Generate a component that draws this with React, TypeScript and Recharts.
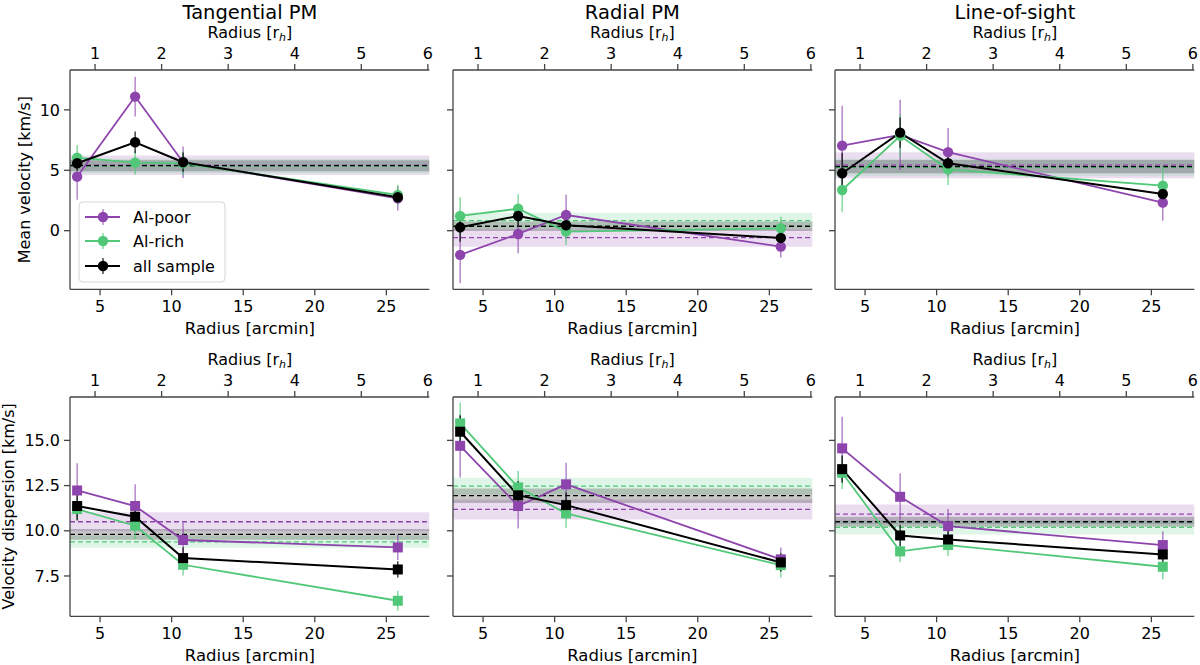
import React from 'react';
import { ComposedChart, Line, XAxis, YAxis, ErrorBar, ReferenceArea, ReferenceLine } from 'recharts';

// radii of the four bins, arcmin
const radii = [3.4, 7.45, 10.8, 25.8];
const rhArcmin = 4.65;
const rhTicks = [1, 2, 3, 4, 5, 6];
const arcminTicks = [5, 10, 15, 20, 25];
const meanTicks = [0, 5, 10];
const dispTicks = [7.5, 10, 12.5, 15];
const panelTitles = ['Tangential PM', 'Radial PM', 'Line-of-sight'];
const seriesNames = ['Al-poor', 'Al-rich', 'all sample'];

// mean velocity
const tanMeanPoor = [4.47, 11.1, 5.67, 2.68];
const tanMeanPoorErr = [1.9, 1.65, 1.3, 1.0];
const tanMeanRich = [6.05, 5.63, 5.58, 2.96];
const tanMeanRichErr = [1.05, 1.0, 1.0, 0.85];
const tanMeanAll = [5.58, 7.32, 5.67, 2.77];
const tanMeanAllErr = [0.6, 0.9, 0.8, 0.5];

const radMeanPoor = [-2.0, -0.27, 1.3, -1.32];
const radMeanPoorErr = [2.35, 1.6, 1.7, 0.9];
const radMeanRich = [1.22, 1.82, -0.08, 0.2];
const radMeanRichErr = [1.55, 1.2, 1.1, 0.95];
const radMeanAll = [0.28, 1.22, 0.45, -0.6];
const radMeanAllErr = [1.2, 0.9, 0.7, 0.5];

const losMeanPoor = [7.04, 7.93, 6.5, 2.32];
const losMeanPoorErr = [3.3, 2.9, 2.0, 1.5];
const losMeanRich = [3.37, 7.85, 5.08, 3.73];
const losMeanRichErr = [1.85, 1.8, 1.3, 1.6];
const losMeanAll = [4.75, 8.12, 5.58, 3.04];
const losMeanAllErr = [1.7, 1.25, 0.8, 0.5];

// velocity dispersion
const tanDispPoor = [12.23, 11.37, 9.49, 9.08];
const tanDispPoorErr = [1.5, 1.2, 0.95, 0.7];
const tanDispRich = [11.2, 10.28, 8.12, 6.13];
const tanDispRichErr = [0.6, 0.75, 0.6, 0.55];
const tanDispAll = [11.37, 10.78, 8.49, 7.86];
const tanDispAllErr = [0.8, 0.7, 0.6, 0.45];

const radDispPoor = [14.7, 11.37, 12.57, 8.42];
const radDispPoorErr = [1.75, 1.25, 1.2, 0.65];
const radDispRich = [15.94, 12.4, 10.96, 8.1];
const radDispRichErr = [1.15, 0.9, 0.8, 0.7];
const radDispAll = [15.48, 11.96, 11.42, 8.25];
const radDispAllErr = [0.9, 0.8, 0.7, 0.5];

const losDispPoor = [14.56, 11.88, 10.26, 9.21];
const losDispPoorErr = [1.75, 1.3, 0.95, 0.75];
const losDispRich = [13.21, 8.86, 9.21, 8.01];
const losDispRichErr = [0.9, 0.6, 0.6, 0.7];
const losDispAll = [13.41, 9.74, 9.52, 8.69];
const losDispAllErr = [0.75, 0.6, 0.55, 0.4];

// global values: [mean, sigma]
const tanMeanBands = [[5.42, 0.8], [5.35, 0.6], [5.38, 0.45]];
const radMeanBands = [[-0.58, 0.75], [0.83, 0.66], [0.37, 0.4]];
const losMeanBands = [[5.42, 1.07], [5.25, 0.7], [5.3, 0.55]];
const tanDispBands = [[10.5, 0.52], [9.39, 0.33], [9.8, 0.3]];
const radDispBands = [[11.18, 0.55], [12.47, 0.46], [11.94, 0.4]];
const losDispBands = [[10.92, 0.54], [10.19, 0.39], [10.5, 0.27]];

const colors = ['#8e44ad', '#50c878', '#000000'];
const errColors = ['rgba(142,68,173,0.75)', 'rgba(80,200,120,0.8)', 'rgba(0,0,0,0.85)'];

const FONT = 'DejaVu Sans, sans-serif';
const AXIS = '#444';
const PW = 359.3;
const PH = 219.3;
const colLeft = [70.3, 452.7, 835.3];
const rowTop = [70, 396.7];
const xDomain = [2.9, 28];
const meanDomain = [-4.85, 13.3];
const dispDomain = [5.27, 17.4];
// top axis shares the arcmin scale, ticks placed at whole multiples of r_h
const rhTickPos = rhTicks.map((t) => t * rhArcmin);

const ML = 60;
const MT = 45;
const MB = 35;
const MR = 10;

type Series = { vals: number[]; errs: number[] };

function Panel({ left, top, series, bands, yDomain, yTicks, showLabels, square, fmt }: {
  left: number; top: number; series: Series[]; bands: number[][]; yDomain: number[];
  yTicks: number[]; showLabels: boolean; square: boolean; fmt: (v: number) => string;
}) {
  const tickStyle = { fill: '#000', fontSize: 16 };
  const dot = (k: number) => (p: any) =>
    square ? (
      <rect key={`d${k}-${p.index}`} x={p.cx - 5} y={p.cy - 5} width={10} height={10} fill={colors[k]} />
    ) : (
      <circle key={`d${k}-${p.index}`} cx={p.cx} cy={p.cy} r={5.2} fill={colors[k]} />
    );
  const rows = series.map((s) => radii.map((r, i) => ({ r, v: s.vals[i], e: s.errs[i] })));
  return (
    <div style={{ position: 'absolute', left: left - ML, top: top - MT }}>
      <ComposedChart width={PW + ML + MR} height={PH + MT + MB} margin={{ top: 5, right: MR, bottom: 5, left: 10 }}>
        <XAxis xAxisId="b" dataKey="r" type="number" domain={xDomain} ticks={arcminTicks} allowDataOverflow
          height={30} tickSize={6} tickMargin={5} stroke={AXIS} strokeWidth={1.3} tick={tickStyle} />
        <XAxis xAxisId="t" dataKey="r" orientation="top" type="number" domain={xDomain} ticks={rhTickPos}
          allowDataOverflow interval={0} height={40} tickSize={6} tickMargin={5} stroke={AXIS} strokeWidth={1.3}
          tick={tickStyle} tickFormatter={(v: number) => String(Math.round(v / rhArcmin))} />
        <YAxis yAxisId="l" type="number" domain={yDomain} ticks={yTicks} allowDataOverflow width={50}
          tickSize={6} tickMargin={4} stroke={AXIS} strokeWidth={1.3} tick={tickStyle}
          tickFormatter={(v: number) => (showLabels ? fmt(v) : '')} />
        <YAxis yAxisId="r" orientation="right" type="number" domain={yDomain} allowDataOverflow width={0}
          tick={false} tickLine={false} stroke={AXIS} strokeWidth={1.3} />
        {bands.map((b, k) => (
          <ReferenceArea key={`a${k}`} xAxisId="b" yAxisId="l" y1={b[0] - b[1]} y2={b[0] + b[1]}
            fill={colors[k]} fillOpacity={k === 2 ? 0.22 : 0.18} stroke="none" />
        ))}
        {bands.map((b, k) => (
          <ReferenceLine key={`l${k}`} xAxisId="b" yAxisId="l" y={b[0]} stroke={colors[k]}
            strokeDasharray="5 3" strokeWidth={1.3} />
        ))}
        {/* carries the top axis scale, draws nothing */}
        <Line xAxisId="t" yAxisId="r" data={rows[2]} dataKey="v" stroke="none" dot={false} activeDot={false}
          legendType="none" isAnimationActive={false} />
        {series.map((s, k) => (
          <Line key={`s${k}`} xAxisId="b" yAxisId="l" data={rows[k]}
            dataKey="v" stroke={colors[k]} strokeWidth={k === 2 ? 2 : 1.8} dot={dot(k)} activeDot={false}
            isAnimationActive={false}>
            <ErrorBar dataKey="e" width={0} stroke={errColors[k]} strokeWidth={1.3} direction="y" />
          </Line>
        ))}
      </ComposedChart>
    </div>
  );
}

function RhLabel({ x, y }: { x: number; y: number }) {
  return (
    <text x={x} y={y} textAnchor="middle" fontSize={16}>
      Radius [r<tspan fontSize={11} fontStyle="italic" dy={3}>h</tspan><tspan dy={-3}>]</tspan>
    </text>
  );
}

export default function App() {
  const meanSeries: Series[][] = [
    [{ vals: tanMeanPoor, errs: tanMeanPoorErr }, { vals: tanMeanRich, errs: tanMeanRichErr }, { vals: tanMeanAll, errs: tanMeanAllErr }],
    [{ vals: radMeanPoor, errs: radMeanPoorErr }, { vals: radMeanRich, errs: radMeanRichErr }, { vals: radMeanAll, errs: radMeanAllErr }],
    [{ vals: losMeanPoor, errs: losMeanPoorErr }, { vals: losMeanRich, errs: losMeanRichErr }, { vals: losMeanAll, errs: losMeanAllErr }],
  ];
  const dispSeries: Series[][] = [
    [{ vals: tanDispPoor, errs: tanDispPoorErr }, { vals: tanDispRich, errs: tanDispRichErr }, { vals: tanDispAll, errs: tanDispAllErr }],
    [{ vals: radDispPoor, errs: radDispPoorErr }, { vals: radDispRich, errs: radDispRichErr }, { vals: radDispAll, errs: radDispAllErr }],
    [{ vals: losDispPoor, errs: losDispPoorErr }, { vals: losDispRich, errs: losDispRichErr }, { vals: losDispAll, errs: losDispAllErr }],
  ];
  const meanBands = [tanMeanBands, radMeanBands, losMeanBands];
  const dispBands = [tanDispBands, radDispBands, losDispBands];

  const legendY = [217, 241, 266];

  return (
    <div style={{ position: 'absolute', left: 0, top: 0, width: 1200, height: 665, background: '#fff', fontFamily: FONT }}>
      {colLeft.map((l, c) => (
        <Panel key={`m${c}`} left={l} top={rowTop[0]} series={meanSeries[c]} bands={meanBands[c]}
          yDomain={meanDomain} yTicks={meanTicks} showLabels={c === 0} square={false} fmt={(v) => String(v)} />
      ))}
      {colLeft.map((l, c) => (
        <Panel key={`d${c}`} left={l} top={rowTop[1]} series={dispSeries[c]} bands={dispBands[c]}
          yDomain={dispDomain} yTicks={dispTicks} showLabels={c === 0} square={true} fmt={(v) => v.toFixed(1)} />
      ))}
      <svg width={1200} height={665} style={{ position: 'absolute', left: 0, top: 0, pointerEvents: 'none', fontFamily: FONT }}>
        {colLeft.map((l, c) => (
          <g key={`t${c}`}>
            <text x={l + PW / 2} y={18.5} textAnchor="middle" fontSize={19.5}>{panelTitles[c]}</text>
            {rowTop.map((t, r) => (
              <g key={`g${r}`}>
                <RhLabel x={l + PW / 2} y={t - 31.7} />
                <text x={l + PW / 2} y={t + PH + 45} textAnchor="middle" fontSize={16.5}>Radius [arcmin]</text>
              </g>
            ))}
          </g>
        ))}
        <text transform={`translate(30,${rowTop[0] + PH / 2}) rotate(-90)`} textAnchor="middle" fontSize={16}>
          Mean velocity [km/s]
        </text>
        <text transform={`translate(13.5,${rowTop[1] + PH / 2}) rotate(-90)`} textAnchor="middle" fontSize={16}>
          Velocity dispersion [km/s]
        </text>
        <rect x={79} y={202} width={146} height={80} rx={4} fill="#fff" fillOpacity={0.8} stroke="#d6d6d6" />
        {seriesNames.map((n, k) => (
          <g key={`lg${k}`}>
            <line x1={85} x2={120} y1={legendY[k]} y2={legendY[k]} stroke={colors[k]} strokeWidth={1.8} />
            <line x1={103} x2={103} y1={legendY[k] - 8} y2={legendY[k] + 8} stroke={errColors[k]} strokeWidth={1.3} />
            <circle cx={103} cy={legendY[k]} r={5.2} fill={colors[k]} />
            <text x={133} y={legendY[k] + 6} fontSize={16}>{n}</text>
          </g>
        ))}
      </svg>
    </div>
  );
}
